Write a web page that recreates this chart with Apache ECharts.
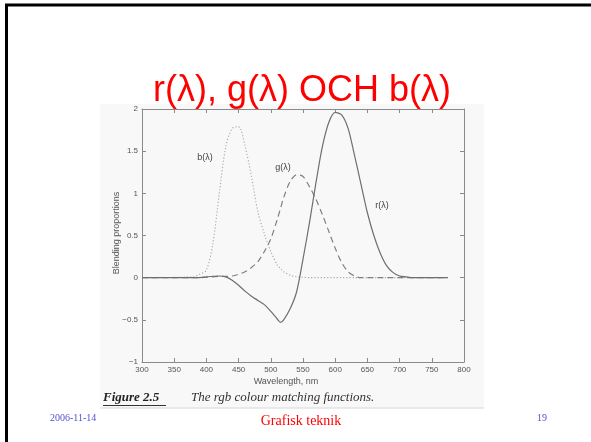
<!DOCTYPE html>
<html>
<head>
<meta charset="utf-8">
<script src="https://cdn.jsdelivr.net/npm/echarts@6/dist/echarts.min.js"></script>
<style>
html,body{margin:0;padding:0;background:#fff;}
#c{width:591px;height:442px;}
</style>
</head>
<body>
<div id="c"></div>
<script>
// Wavelengths (nm)
const wavelengths = [300,380,390,400,410,420,430,440,450,460,470,480,490,500,510,515,520,530,540,550,560,570,580,590,600,610,620,630,640,650,660,670,680,690,700,710,720,730,740,750,760,775];
// r(λ) solid
const rValues = [0,0,0,0.01,0.015,0.02,0.01,-0.03,-0.09,-0.16,-0.22,-0.27,-0.32,-0.40,-0.49,-0.53,-0.50,-0.37,-0.17,0.22,0.65,1.12,1.55,1.84,1.96,1.93,1.77,1.45,1.11,0.77,0.50,0.29,0.14,0.06,0.02,0.01,0,0,0,0,0,0];
// g(λ) dashed
const gValues = [0,0,0,0.005,0.01,0.015,0.015,0.02,0.04,0.07,0.12,0.19,0.31,0.46,0.69,0.82,0.95,1.14,1.22,1.20,1.08,0.93,0.75,0.55,0.35,0.18,0.07,0.02,0,0,0,0,0,0,0,0,0,0,0,0,0,0];
// b(λ) dotted
const bValues = [0,0.01,0.04,0.09,0.40,1.00,1.55,1.77,1.79,1.56,1.20,0.78,0.52,0.31,0.15,0.11,0.07,0.03,0.01,0.005,0,0,0,0,0,0,0,0,0,0,0,0,0,0,0,0,0,0,0,0,0,0];
const xTicks = {min:300, max:800, interval:50};
const yTicks = {min:-1, max:2, interval:0.5};

const pair = vals => wavelengths.map((w,i)=>[w, vals[i]]);
const axisCol = '#8a8a8a';
const lblStyle = {color:'#555', fontSize:8, fontFamily:'Liberation Sans'};

const chart = echarts.init(document.getElementById('c'), null, {renderer:'canvas'});
chart.setOption({
  animation:false,
  backgroundColor:'#ffffff',
  grid:{left:142, right:127, top:109, bottom:80, containLabel:false, show:false},
  xAxis:[{
    type:'value', min:xTicks.min, max:xTicks.max, interval:xTicks.interval,
    axisLine:{show:true, onZero:false, lineStyle:{color:axisCol, width:1}},
    axisTick:{show:true, inside:true, length:4, lineStyle:{color:axisCol}},
    axisLabel:Object.assign({margin:4}, lblStyle),
    splitLine:{show:false}
  },{
    type:'value', position:'top', min:xTicks.min, max:xTicks.max, interval:xTicks.interval,
    axisLine:{show:true, onZero:false, lineStyle:{color:axisCol, width:1}},
    axisTick:{show:true, inside:true, length:4, lineStyle:{color:axisCol}},
    axisLabel:{show:false}, splitLine:{show:false}
  }],
  yAxis:[{
    type:'value', min:yTicks.min, max:yTicks.max, interval:yTicks.interval,
    axisLine:{show:true, onZero:false, lineStyle:{color:axisCol, width:1}},
    axisTick:{show:true, inside:true, length:4, lineStyle:{color:axisCol}},
    axisLabel:Object.assign({margin:4, formatter:v=>String(v).replace('-', '\u2212')}, lblStyle),
    splitLine:{show:false}
  },{
    type:'value', position:'right', min:yTicks.min, max:yTicks.max, interval:yTicks.interval,
    axisLine:{show:true, onZero:false, lineStyle:{color:axisCol, width:1}},
    axisTick:{show:true, inside:true, length:4, lineStyle:{color:axisCol}},
    axisLabel:{show:false}, splitLine:{show:false}
  }],
  series:[
    {name:'r', type:'line', data:pair(rValues), showSymbol:false, smooth:0.3,
     lineStyle:{color:'#6e6e6e', width:1.2, type:'solid'}, z:3},
    {name:'g', type:'line', data:pair(gValues), showSymbol:false, smooth:0.3,
     lineStyle:{color:'#808080', width:1.2, type:[6,4]}, z:2},
    {name:'b', type:'line', data:pair(bValues), showSymbol:false, smooth:0.3,
     lineStyle:{color:'#a8a8a8', width:1.1, type:[1.2,2]}, z:1}
  ],
  graphic:[
    {type:'rect', z:-10, shape:{x:100, y:104, width:384, height:304}, style:{fill:'#f8f8f8'}},
    {type:'line', z:-9, shape:{x1:100, y1:408, x2:484, y2:408}, style:{stroke:'#d8d8d8', lineWidth:1}},
    {type:'line', z:50, shape:{x1:5, y1:5, x2:591, y2:5}, style:{stroke:'#000', lineWidth:3}},
    {type:'line', z:50, shape:{x1:6.5, y1:4, x2:6.5, y2:442}, style:{stroke:'#000', lineWidth:3}},
    {type:'text', z:20, x:302, y:91, style:{text:'r(\u03bb), g(\u03bb) OCH b(\u03bb)', fill:'#ff0000', font:'36px "Liberation Sans"', textAlign:'center', textVerticalAlign:'middle'}},
    {type:'text', z:20, x:205, y:158, style:{text:'b(\u03bb)', fill:'#444', font:'9px "Liberation Sans"', textAlign:'center', textVerticalAlign:'middle'}},
    {type:'text', z:20, x:283, y:168, style:{text:'g(\u03bb)', fill:'#444', font:'9px "Liberation Sans"', textAlign:'center', textVerticalAlign:'middle'}},
    {type:'text', z:20, x:382, y:206, style:{text:'r(\u03bb)', fill:'#444', font:'9px "Liberation Sans"', textAlign:'center', textVerticalAlign:'middle'}},
    {type:'text', z:20, x:117, y:233, rotation:Math.PI/2, style:{text:'Blending proportions', fill:'#555', font:'9px "Liberation Sans"', textAlign:'center', textVerticalAlign:'middle'}},
    {type:'text', z:20, x:286, y:382, style:{text:'Wavelength, nm', fill:'#555', font:'9px "Liberation Sans"', textAlign:'center', textVerticalAlign:'middle'}},
    {type:'text', z:20, x:103, y:398, style:{text:'Figure 2.5', fill:'#222', font:'italic bold 13px "Liberation Serif"', textAlign:'left', textVerticalAlign:'middle'}},
    {type:'line', z:20, shape:{x1:103, y1:405.5, x2:166, y2:405.5}, style:{stroke:'#333', lineWidth:1}},
    {type:'text', z:20, x:191, y:398, style:{text:'The rgb colour matching functions.', fill:'#333', font:'italic 13px "Liberation Serif"', textAlign:'left', textVerticalAlign:'middle'}},
    {type:'text', z:20, x:50, y:418, style:{text:'2006-11-14', fill:'#5050d0', font:'10px "Liberation Serif"', textAlign:'left', textVerticalAlign:'middle'}},
    {type:'text', z:20, x:301, y:421, style:{text:'Grafisk teknik', fill:'#ff0000', font:'14px "Liberation Serif"', textAlign:'center', textVerticalAlign:'middle'}},
    {type:'text', z:20, x:542, y:418, style:{text:'19', fill:'#5050d0', font:'10px "Liberation Serif"', textAlign:'center', textVerticalAlign:'middle'}}
  ]
});
</script>
</body>
</html>
